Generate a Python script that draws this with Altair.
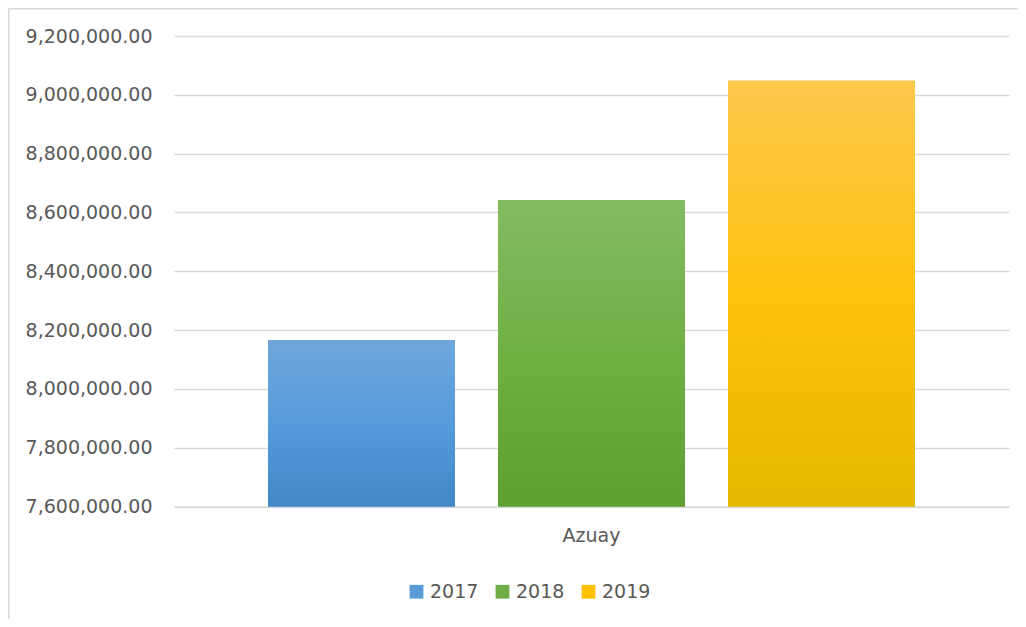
import altair as alt
import pandas as pd

regions = ["Azuay", "Azuay", "Azuay"]
years = ["2017", "2018", "2019"]
values = [8166000, 8642000, 9048000]
y_ticks = [7600000, 7800000, 8000000, 8200000, 8400000, 8600000, 8800000, 9000000, 9200000]
y_min, y_max = 7600000, 9200000

base_colors = ["#5b9bd5", "#70ad47", "#ffc000"]
gradients = {
    "2017": ["#70a6dc", "#569bdc", "#4288c7"],
    "2018": ["#84bb62", "#6fb043", "#5e9f32"],
    "2019": ["#fec84c", "#ffc20d", "#e6b800"],
}

df = pd.DataFrame({"region": regions, "year": years, "value": values})

FONT = "DejaVu Sans"
TXT = "#595959"
GRID = "#d9d9d9"
FS = 19

x_enc = alt.X("region:N", title=None,
              scale=alt.Scale(paddingInner=0, paddingOuter=0.1453),
              axis=alt.Axis(labelAngle=0, labelFontSize=FS, labelColor=TXT, labelFont=FONT,
                            ticks=False, grid=False, domainColor=GRID, domainWidth=1.3,
                            labelPadding=20))
xo_enc = alt.XOffset("year:N", scale=alt.Scale(paddingInner=0.187, paddingOuter=0))
y_enc = alt.Y("value:Q", title=None,
              scale=alt.Scale(domain=[y_min, y_max], zero=False, nice=False),
              axis=alt.Axis(values=y_ticks, format=",.2f", labelFontSize=FS, labelColor=TXT,
                            labelFont=FONT, ticks=False, domain=False, gridColor=GRID,
                            gridWidth=1.3, labelPadding=22))
y2_enc = alt.Y2(datum=y_min)

# soft shadow layers
shadows = [
    alt.Chart(df).mark_bar(color="#000000", opacity=op, xOffset=dx, yOffset=dy).encode(
        x=x_enc, xOffset=xo_enc, y=y_enc, y2=y2_enc)
    for (dx, dy, op) in [(3.5, 2.5, 0.05), (2.5, 1.5, 0.08), (1.5, 1.0, 0.12)]
]

base = alt.Chart(df).mark_bar().encode(
    x=x_enc, xOffset=xo_enc, y=y_enc, y2=y2_enc,
    color=alt.Color("year:N", title=None,
                    scale=alt.Scale(domain=years, range=base_colors),
                    legend=alt.Legend(orient="none", legendX=233, legendY=546, direction="horizontal",
                                      symbolType="square", symbolSize=190, symbolStrokeWidth=0,
                                      labelFontSize=FS, labelColor=TXT, labelFont=FONT,
                                      labelOffset=4, columnPadding=14)),
)

layers = shadows + [base]
for yr in years:
    c = gradients[yr]
    g = alt.Gradient(gradient="linear", x1=0, x2=0, y1=0, y2=1,
                     stops=[alt.GradientStop(color=c[0], offset=0),
                            alt.GradientStop(color=c[1], offset=0.5),
                            alt.GradientStop(color=c[2], offset=1)])
    layers.append(
        alt.Chart(df).transform_filter(alt.datum.year == yr).mark_bar(color=g).encode(
            x=x_enc, xOffset=xo_enc, y=y_enc, y2=y2_enc
        )
    )

frame_top = alt.Chart(df).mark_rule(color=GRID, strokeWidth=1.5).encode(
    x=alt.value(-165.5), x2=alt.value(860), y=alt.value(-27.5))
frame_left = alt.Chart(df).mark_rule(color=GRID, strokeWidth=1.5).encode(
    x=alt.value(-165.5), y=alt.value(-27.5), y2=alt.value(600))

chart = alt.layer(*layers, frame_top, frame_left).properties(
    width=835, height=470.5,
    autosize=alt.AutoSizeParams(type="none"),
    padding={"left": 166, "top": 28, "right": 9, "bottom": 112},
).configure(background="white").configure_view(stroke="transparent", strokeWidth=0)

chart.save("out.html", embed_options={"renderer": "svg", "actions": False})
